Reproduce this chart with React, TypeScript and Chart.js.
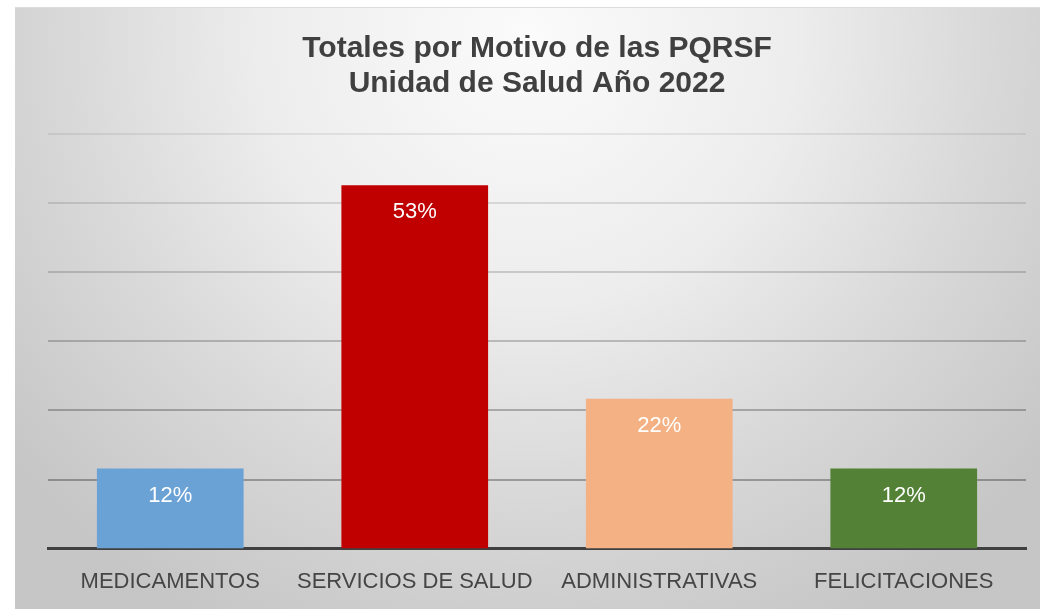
import React, { useEffect, useRef } from "react";
import { Chart, registerables } from "chart.js";

Chart.register(...registerables);

const titleLines = ["Totales por Motivo de las PQRSF", "Unidad de Salud Año 2022"];
const categories = ["MEDICAMENTOS", "SERVICIOS DE SALUD", "ADMINISTRATIVAS", "FELICITACIONES"];
const values = [11.6, 52.6, 21.7, 11.6];
const valueLabels = ["12%", "53%", "22%", "12%"];
const barColors = ["#6aa2d6", "#c00000", "#f4b183", "#538135"];
const yMax = 60;
const yStep = 10;

const labelPlugin = {
  id: "barValueLabels",
  afterDatasetsDraw(chart: any) {
    const ctx = chart.ctx;
    const meta = chart.getDatasetMeta(0);
    ctx.save();
    ctx.fillStyle = "#ffffff";
    ctx.font = "22px 'Liberation Sans', Arial, sans-serif";
    ctx.textAlign = "center";
    ctx.textBaseline = "middle";
    meta.data.forEach((bar: any, i: number) => {
      ctx.fillText(valueLabels[i], bar.x, bar.y + 27);
    });
    ctx.restore();
  },
};

export default function App() {
  const canvasRef = useRef<HTMLCanvasElement | null>(null);

  useEffect(() => {
    if (!canvasRef.current) return;
    const chart = new Chart(canvasRef.current, {
      type: "bar",
      data: {
        labels: categories,
        datasets: [
          {
            data: values,
            backgroundColor: barColors,
            borderWidth: 0,
            categoryPercentage: 1,
            barPercentage: 0.6,
          },
        ],
      },
      options: {
        responsive: false,
        animation: false,
        layout: { padding: { left: 33, right: 14, top: 0, bottom: -6 } },
        plugins: {
          legend: { display: false },
          tooltip: { enabled: false },
          title: {
            display: true,
            text: titleLines,
            color: "#404040",
            font: { family: "'Liberation Sans', Arial, sans-serif", size: 30, weight: "bold", lineHeight: 1.17 },
            padding: { top: 23, bottom: 33 },
          },
        },
        scales: {
          x: {
            grid: { display: false, drawTicks: false },
            border: { display: true, color: "#404040", width: 3 },
            ticks: {
              color: "#454545",
              padding: 20,
              font: { family: "'Liberation Sans', Arial, sans-serif", size: 22 },
            },
          },
          y: {
            min: 0,
            max: yMax,
            border: { display: false },
            ticks: { display: false, stepSize: yStep },
            grid: {
              drawTicks: false,
              lineWidth: (c: any) => (c.tick && c.tick.value === 0 ? 0 : 2),
              color: (c: any) => {
                const v = c.tick ? c.tick.value : 0;
                const a = 0.07 + (yMax - v) * 0.0045;
                return `rgba(0,0,0,${a.toFixed(3)})`;
              },
            },
          },
        },
      },
      plugins: [labelPlugin],
    });
    return () => chart.destroy();
  }, []);

  return (
    <div
      style={{
        position: "fixed",
        left: 15,
        top: 7,
        width: 1025,
        height: 602,
        borderTop: "1px solid #dcdcdc",
        boxSizing: "border-box",
        background:
          "radial-gradient(ellipse 65% 110% at 50% 5%, #fbfbfb 0%, #ededed 40%, #d8d8d8 70%, #c6c6c6 100%)",
      }}
    >
      <canvas ref={canvasRef} width={1025} height={601} style={{ display: "block" }} />
    </div>
  );
}
